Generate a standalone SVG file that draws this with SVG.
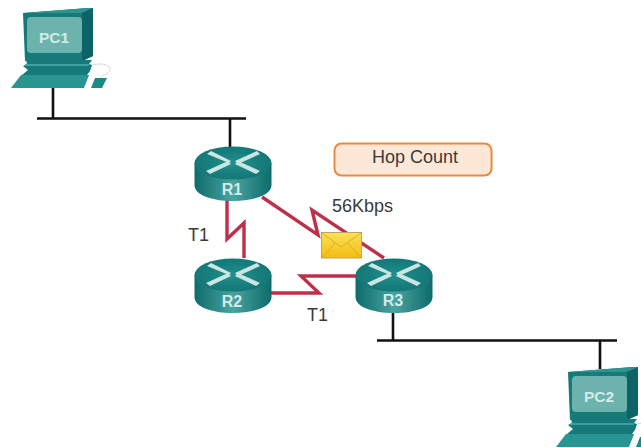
<svg xmlns="http://www.w3.org/2000/svg" width="641" height="448" viewBox="0 0 641 448">
<style>
.wire{fill:none;stroke:#111;stroke-width:2.6}
.serial{fill:none;stroke:#bd3049;stroke-width:3.4;stroke-linejoin:miter}
.lbl{font-family:"Liberation Sans",Arial,sans-serif;font-size:18px;fill:#3a3a3a}
.dev{font-family:"Liberation Sans",Arial,sans-serif;font-weight:bold;fill:#d2ebe8;text-anchor:middle}
.arrow{fill:#c9e6e2}
</style>
<defs>
<filter id="soft" x="-5%" y="-5%" width="110%" height="110%"><feGaussianBlur stdDeviation="0.6"/></filter>
<linearGradient id="body" x1="0" x2="1" y1="0" y2="0">
<stop offset="0" stop-color="#0e6b6b"/><stop offset="0.5" stop-color="#4aa3a0"/><stop offset="1" stop-color="#0e6b6b"/>
</linearGradient>
<radialGradient id="top" cx="0.5" cy="0.5" r="0.6">
<stop offset="0" stop-color="#23908d"/><stop offset="1" stop-color="#0f7172"/>
</radialGradient>
<g id="router" filter="url(#soft)">
<path d="M-38.500,0V22C-38.500,32 -21,38 0,38S38.500,32 38.500,22V0Z" fill="url(#body)"/>
<ellipse cx="0" cy="0" rx="38.500" ry="16.500" fill="url(#top)"/>
<path class="arrow" d="M-26,-9L-22,-12L-2,-2L-4,0ZM-23,11L-27,8L-5,-2L-2,1ZM24,-12L27,-9L5,1L2,-2ZM27,8L23,11L2,1L5,-2Z"/>
</g>
<g id="pc" filter="url(#soft)">
<path d="M23,13L88,8H93V56L82,61H25Z" fill="#14797a"/>
<path d="M23,13L88,8H93L82,13Z" fill="#2f9490"/>
<path d="M82,13L93,8V56L82,61Z" fill="#0e6465"/>
<rect x="27" y="17" width="55" height="36" rx="4" fill="#6cb3ad"/>
<path d="M26,60H92L89,64L92,65L90,71L87,75H22L28,70L23,66L27,64Z" fill="#12797a"/>
<path d="M26,64H90L88,66H24Z" fill="#3ea29d"/>
<path d="M21,75H89L84,88H11Z" fill="#2a9490"/>
<path d="M95,78H107L102,88H91Z" fill="#1d8a87"/>
<path d="M92,65C104,62 111,66 110,70C108,75 103,74 100,78" fill="none" stroke="#cfdcdb" stroke-width="1"/>
</g>
<linearGradient id="env" x1="0" x2="0" y1="0" y2="1"><stop offset="0" stop-color="#fbe05a"/><stop offset="1" stop-color="#f3bd10"/></linearGradient>
</defs>
<rect width="641" height="448" fill="#fff"/>
<g id="connectors">
<path class="wire" d="M53,88V118M37,118.500H246M230,118V148"/>
<path class="wire" d="M393,310V340M377,340.500H617M600,340V369"/>
<path class="serial" d="M227,200V239L244,223V258"/>
<path class="serial" d="M262,197L318,235L312,210L384,258"/>
<path class="serial" d="M271,293H319L301,276H357"/>
</g>
<g id="PC1"><use href="#pc"/><text class="dev" x="54" y="43" font-size="15.500">PC1</text></g>
<g id="PC2"><use href="#pc" x="545" y="359"/><text class="dev" x="599" y="402" font-size="15.500">PC2</text></g>
<g id="R1"><use href="#router" x="233" y="163"/><text class="dev" x="232" y="195" font-size="16">R1</text></g>
<g id="R2"><use href="#router" x="233" y="275"/><text class="dev" x="232" y="307" font-size="16">R2</text></g>
<g id="R3"><use href="#router" x="394" y="275"/><text class="dev" x="393" y="306" font-size="16">R3</text></g>
<g id="packet">
<rect x="321.500" y="232.500" width="40" height="25.500" fill="url(#env)" stroke="#b9a46a" stroke-width="1"/>
<path d="M322,233L341,247L361,233M322,258L335,243M361,258L348,243" fill="none" stroke="#d4a816" stroke-width="0.8"/>
</g>
<g id="hop-count">
<rect x="334.500" y="143.500" width="157" height="32" rx="7" fill="#fde8d8" stroke="#e88a3e" stroke-width="2"/>
<text class="lbl" x="415" y="163" text-anchor="middle">Hop Count</text>
</g>
<text class="lbl" x="332" y="212">56Kbps</text>
<text class="lbl" x="188" y="241">T1</text>
<text class="lbl" x="307" y="321">T1</text>
</svg>
